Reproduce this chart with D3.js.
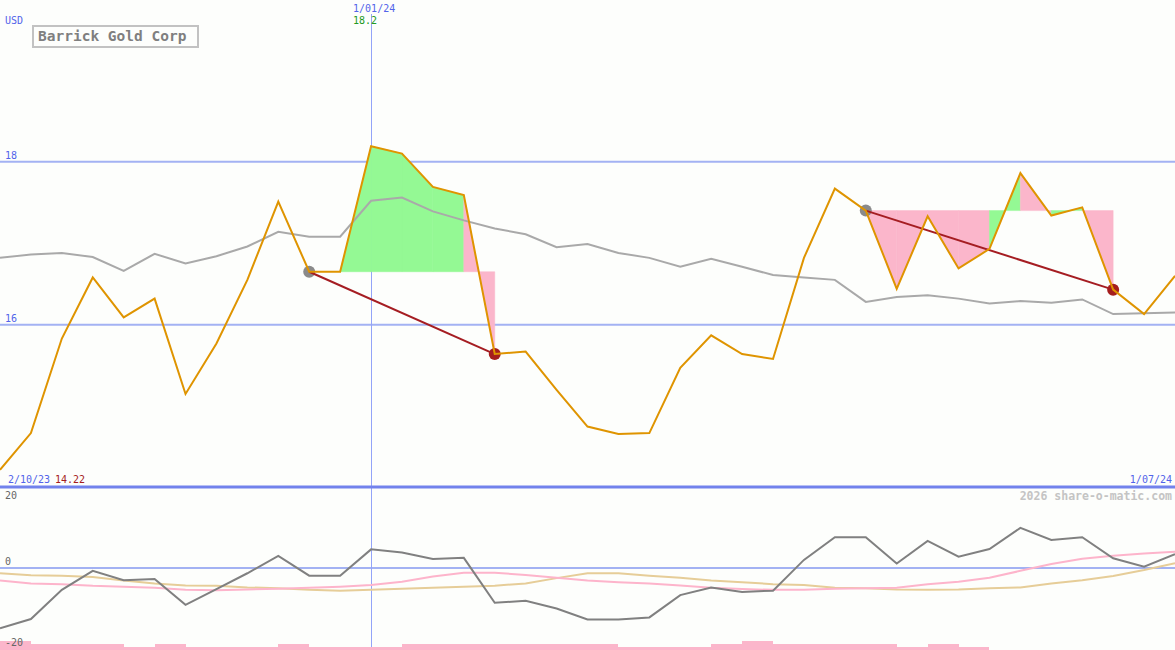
<!DOCTYPE html>
<html>
<head>
<meta charset="utf-8">
<script src="https://cdn.jsdelivr.net/npm/d3@7/dist/d3.min.js"></script>
<style>
  html, body { margin: 0; padding: 0; background: #fdfefc; }
  svg { display: block; }
  text { font-family: "DejaVu Sans Mono", "Liberation Mono", monospace; }
</style>
</head>
<body>
<script>
// ---------------- DATA ----------------
const title = "Barrick Gold Corp";
const currency = "USD";
const startLabel = "2/10/23";
const endLabel = "1/07/24";
const cursorLabel = "1/01/24";
const cursorIndex = 12;
const cursorValue = "18.2";
const startValue = "14.22";
const copyright = "2026 share-o-matic.com";

const priceTicks = [16, 18];
const oscTicks = [20, 0, -20];

// weekly closing prices
const price = [14.22, 14.67, 15.83, 16.58, 16.09, 16.32, 15.15, 15.77, 16.55, 17.51,
               16.65, 16.65, 18.19, 18.10, 17.69, 17.59, 15.64, 15.67, 15.20, 14.75,
               14.66, 14.67, 15.47, 15.87, 15.64, 15.58, 16.82, 17.67, 17.40, 16.44,
               17.33, 16.69, 16.93, 17.86, 17.34, 17.44, 16.43, 16.13, 16.60];

// moving average (grey)
const movingAvg = [16.82, 16.86, 16.88, 16.83, 16.66, 16.87, 16.75, 16.84, 16.96, 17.14,
                   17.08, 17.08, 17.52, 17.56, 17.39, 17.28, 17.18, 17.11, 16.95, 16.99,
                   16.88, 16.82, 16.71, 16.81, 16.71, 16.61, 16.58, 16.55, 16.28, 16.34,
                   16.36, 16.32, 16.26, 16.29, 16.27, 16.31, 16.13, 16.14, 16.15];

// trades: entry index -> exit index
const tradeEntry = [10, 28];
const tradeExit = [16, 36];

// oscillator panel
const oscMain = [-14.9, -12.6, -5.4, -0.7, -3.0, -2.7, -9.1, -5.2, -1.3, 3.0,
                 -1.9, -1.9, 4.6, 3.8, 2.2, 2.5, -8.6, -8.1, -10.0, -12.7,
                 -12.7, -12.2, -6.7, -4.8, -5.9, -5.6, 2.0, 7.6, 7.6, 1.1,
                 6.7, 2.8, 4.7, 9.9, 6.9, 7.6, 2.4, 0.3, 3.4];
const oscPink = [-3.1, -3.8, -4.0, -4.4, -4.6, -4.9, -5.4, -5.5, -5.3, -5.1,
                 -4.9, -4.6, -4.2, -3.4, -2.1, -1.2, -1.2, -1.7, -2.4, -3.1,
                 -3.5, -3.8, -4.3, -4.9, -5.2, -5.4, -5.4, -5.1, -5.0, -4.9,
                 -4.0, -3.4, -2.4, -0.7, 1.0, 2.3, 3.0, 3.6, 4.0];
const oscTan = [-1.3, -1.8, -1.9, -2.2, -3.1, -3.8, -4.3, -4.4, -4.8, -5.0,
                -5.4, -5.6, -5.4, -5.1, -4.9, -4.6, -4.4, -3.8, -2.5, -1.3,
                -1.3, -1.9, -2.4, -3.1, -3.5, -4.0, -4.2, -4.9, -5.0, -5.3,
                -5.4, -5.3, -5.0, -4.8, -3.8, -3.0, -2.0, -0.5, 1.2];
// volume-like bars per weekly interval
const volBars = [3, 2, 2, 2, 1, 2, 1, 1, 1, 2,
                 1, 1, 1, 2, 2, 2, 2, 2, 2, 2,
                 1, 1, 1, 2, 3, 2, 2, 2, 2, 1,
                 2, 1, 0, 0, 0, 0, 0, 0];

// ---------------- CHART ----------------
const W = 1175, H = 650;
const svg = d3.select("body").append("svg").attr("width", W).attr("height", H);
svg.append("rect").attr("width", W).attr("height", H).attr("fill", "#fdfefc");

const x = d3.scaleLinear().domain([0, price.length - 1]).range([0, W]);
const y = d3.scaleLinear().domain([14, 18.5]).range([487.7, 120.95]);
const yo = d3.scaleLinear().domain([-20, 20]).range([649, 487]);
const yv = d3.scaleLinear().domain([0, 3]).range([650, 641]);

const blue = "#5264ea";
const grid = "#a3b2f3";

// price gridlines
svg.append("g").selectAll("line").data(priceTicks).join("line")
  .attr("x1", 0).attr("x2", W)
  .attr("y1", d => y(d)).attr("y2", d => y(d))
  .attr("stroke", grid).attr("stroke-width", 2);
svg.append("g").selectAll("text").data(priceTicks).join("text")
  .attr("x", 5).attr("y", d => y(d) - 3)
  .attr("font-size", 10).attr("fill", blue).text(d => d);

// oscillator zero line
svg.append("line").attr("x1", 0).attr("x2", W)
  .attr("y1", yo(0)).attr("y2", yo(0))
  .attr("stroke", grid).attr("stroke-width", 2);

// cursor line
const cx = Math.round(x(cursorIndex)) + 0.5;
svg.append("line").attr("x1", cx).attr("x2", cx)
  .attr("y1", 14).attr("y2", H)
  .attr("stroke", "#93a4f8").attr("stroke-width", 1).attr("shape-rendering", "crispEdges");

// volume bars
svg.append("g").selectAll("rect").data(volBars).join("rect")
  .attr("x", (d, i) => x(i)).attr("width", (d, i) => x(i + 1) - x(i))
  .attr("y", d => yv(d)).attr("height", d => yv(0) - yv(d))
  .attr("fill", "#fbb6cb").attr("shape-rendering", "crispEdges");

svg.append("g").selectAll("text").data(oscTicks).join("text")
  .attr("x", 5).attr("y", d => Math.max(yo(d) - 3, 499))
  .attr("font-size", 10).attr("fill", "#666").text(d => d);

// oscillator lines
const lo = d3.line().x((d, i) => x(i)).y(d => yo(d));
svg.append("path").attr("d", lo(oscTan)).attr("fill", "none").attr("stroke", "#e6cd98").attr("stroke-width", 2);
svg.append("path").attr("d", lo(oscPink)).attr("fill", "none").attr("stroke", "#fdb4cb").attr("stroke-width", 2);
svg.append("path").attr("d", lo(oscMain)).attr("fill", "none").attr("stroke", "#808080").attr("stroke-width", 2);

// trade fills
const fills = svg.append("g");
tradeEntry.forEach((a, k) => {
  const b = tradeExit[k];
  const ref = price[a];
  for (let i = a; i < b; i++) {
    if (price[i] === ref && price[i + 1] === ref) continue;
    const col = price[i + 1] >= ref ? "#94f994" : "#fbb6cb";
    const pts = [[x(i), y(ref)], [x(i), y(price[i])], [x(i + 1), y(price[i + 1])], [x(i + 1), y(ref)]];
    fills.append("path").attr("d", "M" + pts.join("L") + "Z")
      .attr("fill", col).attr("fill-rule", "nonzero").attr("stroke", col).attr("stroke-width", 0.5);
  }
});

// panel divider
svg.append("line").attr("x1", 0).attr("x2", W).attr("y1", 487).attr("y2", 487)
  .attr("stroke", "#7282ec").attr("stroke-width", 3);

// moving average
const lp = d3.line().x((d, i) => x(i)).y(d => y(d));
svg.append("path").attr("d", lp(movingAvg)).attr("fill", "none").attr("stroke", "#a9a9a9").attr("stroke-width", 2);

// trade markers
tradeEntry.forEach((a, k) => {
  const b = tradeExit[k];
  svg.append("circle").attr("cx", x(a)).attr("cy", y(price[a])).attr("r", 6).attr("fill", "#8a8a8a");
  svg.append("circle").attr("cx", x(b)).attr("cy", y(price[b])).attr("r", 6).attr("fill", "#a51d1d");
  svg.append("line").attr("x1", x(a)).attr("y1", y(price[a])).attr("x2", x(b)).attr("y2", y(price[b]))
    .attr("stroke", "#a51d22").attr("stroke-width", 2);
});

// price line
svg.append("path").attr("d", lp(price)).attr("fill", "none").attr("stroke", "#df9400").attr("stroke-width", 2);

// texts
svg.append("text").attr("x", 5).attr("y", 24).attr("font-size", 10).attr("fill", blue).text(currency);
svg.append("rect").attr("x", 33).attr("y", 26).attr("width", 165).attr("height", 21)
  .attr("fill", "#fdfefc").attr("stroke", "#c2c2c2").attr("stroke-width", 2);
svg.append("text").attr("x", 38).attr("y", 41).attr("font-size", 14.5).attr("fill", "#7f7f7f")
  .attr("font-weight", "bold").text(title);

svg.append("text").attr("x", x(cursorIndex) - 18).attr("y", 12).attr("font-size", 10).attr("fill", blue).text(cursorLabel);
svg.append("text").attr("x", x(cursorIndex) - 18).attr("y", 24).attr("font-size", 10).attr("fill", "#229922").text(cursorValue);

svg.append("text").attr("x", 8).attr("y", 483).attr("font-size", 10).attr("fill", blue).text(startLabel);
svg.append("text").attr("x", 55).attr("y", 483).attr("font-size", 10).attr("fill", "#a51d1d").text(startValue);
svg.append("text").attr("x", 1172).attr("y", 483).attr("text-anchor", "end").attr("font-size", 10).attr("fill", blue).text(endLabel);
svg.append("text").attr("x", 1172).attr("y", 500).attr("text-anchor", "end").attr("font-size", 11.5)
  .attr("font-weight", "bold").attr("fill", "#c4c4c4").text(copyright);
</script>
</body>
</html>
